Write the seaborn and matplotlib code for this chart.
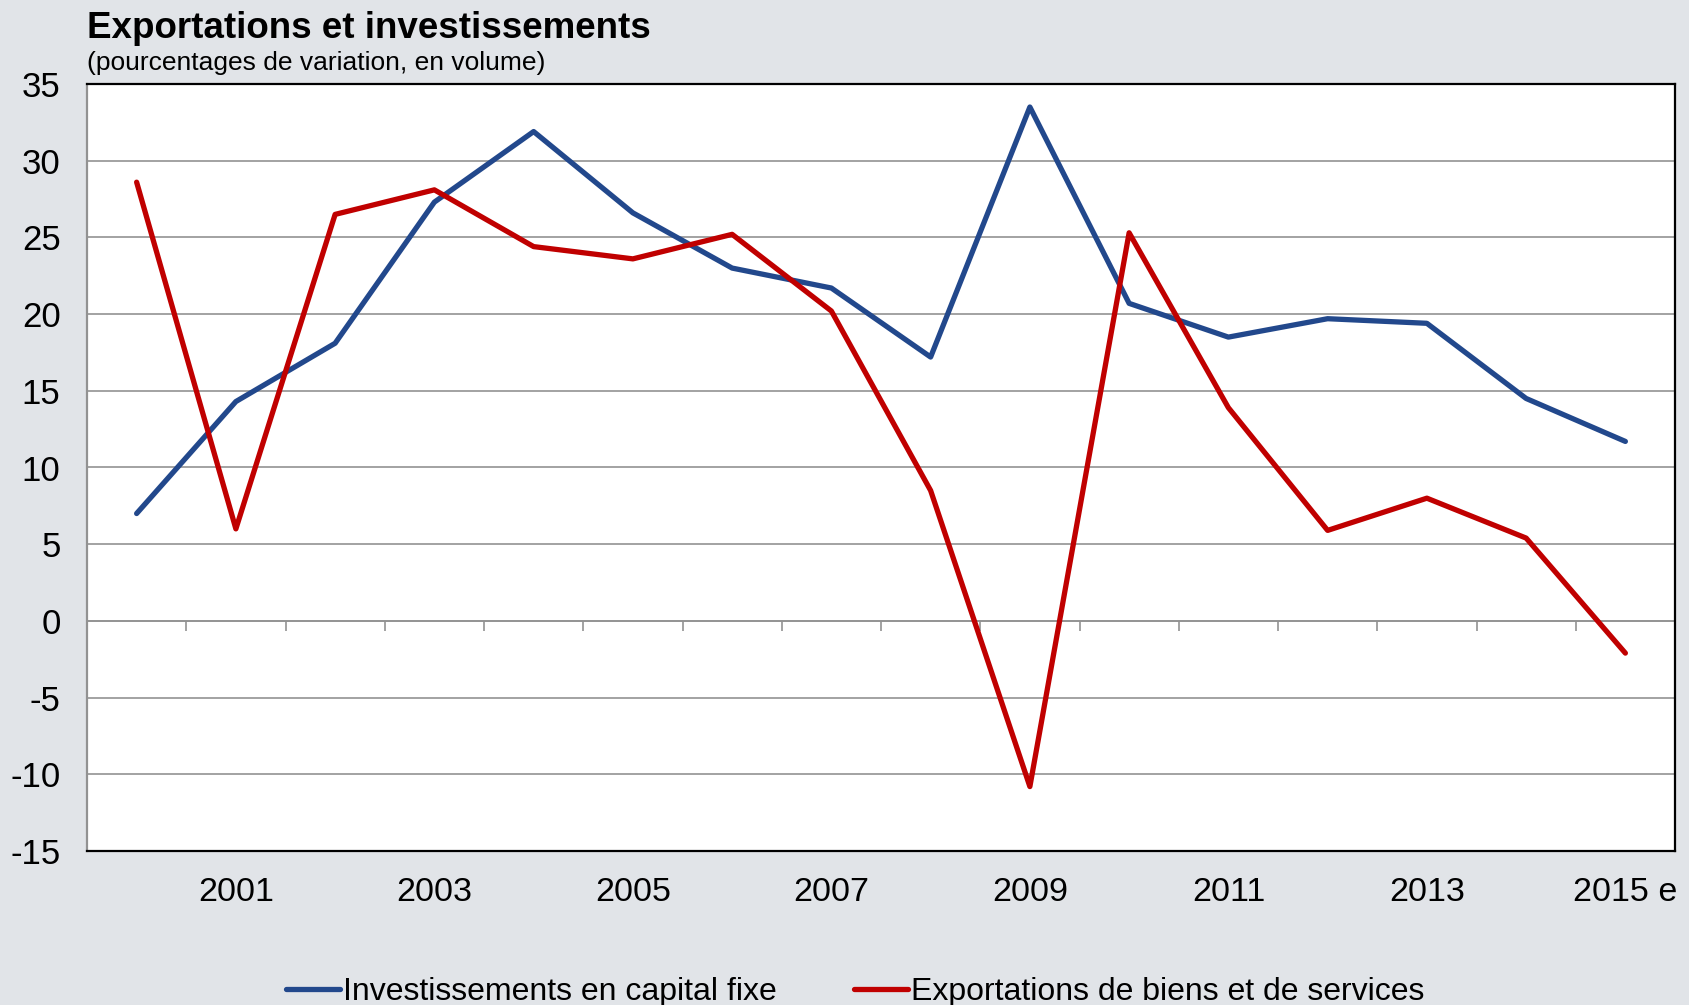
# Exportations et investissements — pourcentages de variation, en volume
# Two series, 2000-2015 (2015 estimated).

import pandas as pd
import matplotlib.pyplot as plt
import seaborn as sns

years = list(range(2000, 2016))
investissements = [7.0, 14.3, 18.1, 27.3, 31.9, 26.6, 23.0, 21.7, 17.2, 33.5, 20.7, 18.5, 19.7, 19.4, 14.5, 11.7]
exportations = [28.6, 6.0, 26.5, 28.1, 24.4, 23.6, 25.2, 20.2, 8.5, -10.8, 25.3, 13.9, 5.9, 8.0, 5.4, -2.1]
series_names = ["Investissements en capital fixe", "Exportations de biens et de services"]
series_colors = ["#22488C", "#C00000"]
tick_years = [2001, 2003, 2005, 2007, 2009, 2011, 2013, 2015]
tick_labels = ["2001", "2003", "2005", "2007", "2009", "2011", "2013", "2015 e"]
y_ticks = list(range(-15, 40, 5))

df = pd.DataFrame({
    "annee": years * 2,
    "valeur": investissements + exportations,
    "serie": [series_names[0]] * len(years) + [series_names[1]] * len(years),
})

sns.set_style("white")
plt.rcParams["font.family"] = ["Liberation Sans", "DejaVu Sans"]
plt.rcParams["text.color"] = "black"
plt.rcParams["xtick.labelcolor"] = "black"
plt.rcParams["ytick.labelcolor"] = "black"

bg = "#E1E4E8"
grid_col = "#929292"

fig = plt.figure(figsize=(16.9, 10.05), dpi=100, facecolor=bg)
ax = fig.add_axes([87 / 1690, 1 - 851 / 1005, (1675 - 87) / 1690, (851 - 84) / 1005])
ax.set_facecolor("white")

sns.lineplot(data=df, x="annee", y="valeur", hue="serie", hue_order=series_names,
             palette=dict(zip(series_names, series_colors)), linewidth=3.8, ax=ax)

ax.set_xlim(years[0] - 0.5, years[-1] + 0.5)
ax.set_ylim(-15, 35)
ax.set_yticks(y_ticks)
ax.set_yticklabels([str(v) for v in y_ticks], fontsize=25)
ax.set_xticks(tick_years)
ax.set_xticklabels(tick_labels, fontsize=24.5)
ax.tick_params(axis="x", length=0, pad=19)
ax.tick_params(axis="y", length=7, width=1.2, color=grid_col, direction="out", pad=12)
ax.yaxis.grid(True, color=grid_col, linewidth=1.2)
ax.set_axisbelow(True)
ax.set_xlabel("")
ax.set_ylabel("")

for side in ["top", "right", "bottom"]:
    ax.spines[side].set_color("black")
    ax.spines[side].set_linewidth(1.6)
ax.spines["left"].set_color(grid_col)
ax.spines["left"].set_linewidth(1.6)

# category boundary ticks hanging from the zero line
zero_axis = ax.secondary_xaxis(15 / 50)
zero_axis.set_xticks([y + 0.5 for y in years[:-1]])
zero_axis.set_xticklabels([])
zero_axis.tick_params(axis="x", length=7, width=1.2, color=grid_col, direction="out")
zero_axis.spines["bottom"].set_color(grid_col)
zero_axis.spines["bottom"].set_linewidth(1.2)

handles, labels = ax.get_legend_handles_labels()
ax.get_legend().remove()
fig.legend(handles, labels, loc="center", bbox_to_anchor=(0.506, 0.013), ncol=2,
           frameon=False, fontsize=23, handlelength=1.7, handletextpad=0.1,
           columnspacing=2.4)

fig.text(87 / 1690, 1 - 38 / 1005, "Exportations et investissements", fontsize=26.5,
         fontweight="bold", va="baseline", ha="left")
fig.text(87 / 1690, 1 - 70 / 1005, "(pourcentages de variation, en volume)", fontsize=19,
         va="baseline", ha="left")

fig.savefig("out.png", dpi=100, facecolor=bg)
